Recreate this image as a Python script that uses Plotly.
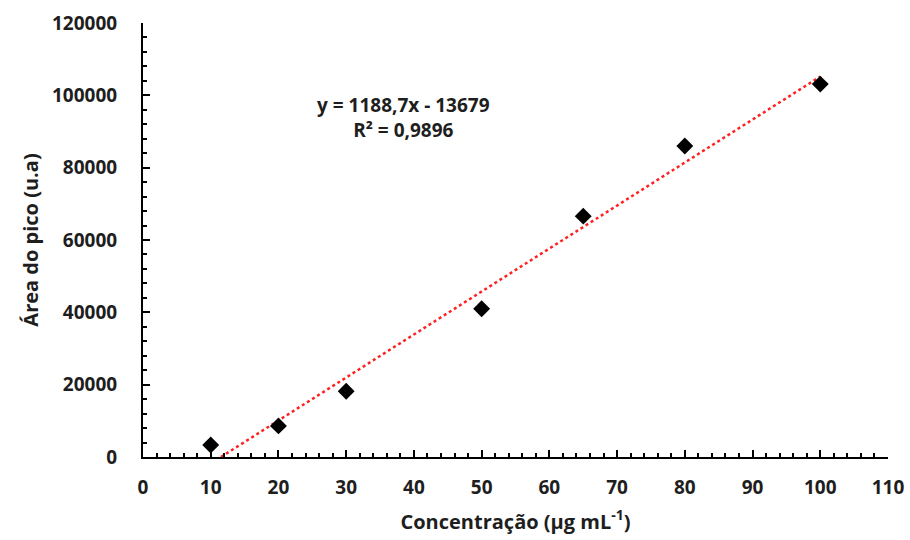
import plotly.graph_objects as go

conc = [10, 20, 30, 50, 65, 80, 100]
area = [3300, 8600, 18200, 41000, 66600, 86000, 103100]
slope = 1188.7
intercept = -13679
r2 = 0.9896

x0 = -intercept / slope
x1 = 100
trend_x = [x0, x1]
trend_y = [slope * x0 + intercept, slope * x1 + intercept]

FONT = "Open Sans"
TXT = "#1e1e1e"

fig = go.Figure()
fig.add_trace(go.Scatter(x=trend_x, y=trend_y, mode="lines",
                         line=dict(color="#ff2020", width=2.5, dash="dot"),
                         showlegend=False, hoverinfo="skip"))
fig.add_trace(go.Scatter(x=conc, y=area, mode="markers",
                         marker=dict(symbol="diamond", size=13, color="black"),
                         showlegend=False))

fig.add_annotation(x=38.5, y=94000, xref="x", yref="y", showarrow=False,
                   text=f"y = {str(slope).replace('.', ',')}x - {abs(intercept)}<br>R² = {str(r2).replace('.', ',')}",
                   font=dict(family=FONT, size=19, color=TXT, weight="bold"), align="center")

axis_common = dict(showline=True, linecolor="black", linewidth=2, showgrid=False,
                   zeroline=False, ticks="inside", ticklen=7, tickwidth=2, tickcolor="black",
                   tickfont=dict(family=FONT, size=19, color=TXT, weight="bold"),
                   tickformat="d", mirror=False, automargin=False)

fig.update_xaxes(range=[0, 110], dtick=10, tick0=0,
                 minor=dict(ticks="inside", ticklen=4, dtick=2, tickwidth=2, tickcolor="black"),
                 ticklabelstandoff=12,
                 title=dict(text="Concentração (µg mL<sup>-1</sup>)", standoff=16,
                            font=dict(family=FONT, size=20, color=TXT, weight="bold")),
                 **axis_common)
fig.update_yaxes(range=[0, 120000], dtick=20000, tick0=0,
                 minor=dict(ticks="inside", ticklen=4, dtick=4000, tickwidth=2, tickcolor="black"),
                 ticklabelstandoff=20,
                 title=dict(text="Área do pico (u.a)", standoff=8,
                            font=dict(family=FONT, size=20, color=TXT, weight="bold")),
                 **axis_common)

fig.update_layout(width=910, height=540, plot_bgcolor="white", paper_bgcolor="white",
                  margin=dict(l=143, r=22, t=23, b=83, autoexpand=False))

fig.write_html("out.html")
